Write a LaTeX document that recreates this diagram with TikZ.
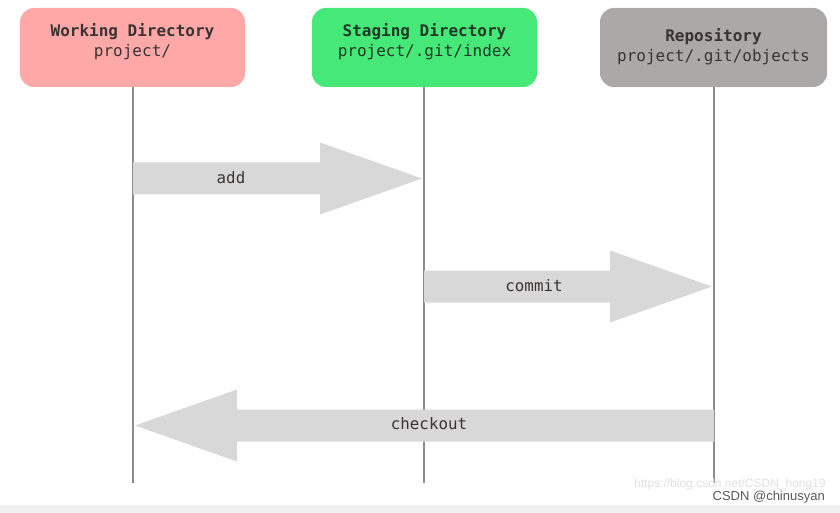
\documentclass[tikz,border=0pt]{standalone}
\usepackage{fontspec}
\setmonofont{DejaVu Sans Mono}
\setsansfont{Liberation Sans}
\usetikzlibrary{calc}
\definecolor{wdpink}{HTML}{FFA8A8}
\definecolor{sdgreen}{HTML}{46E878}
\definecolor{repogray}{HTML}{ADA8A8}
\definecolor{arrowfill}{HTML}{D8D8D8}
\definecolor{lifegray}{HTML}{8C8C8C}
\definecolor{txtdark}{HTML}{3A3333}
\definecolor{txtgreen}{HTML}{1E3A26}
\tikzset{
  box/.style={rounded corners=14pt, minimum width=225pt, minimum height=79pt, inner sep=0pt},
  boxtext/.style={align=center, font=\fontsize{16}{20}\selectfont\ttfamily, inner sep=0pt},
  lifeline/.style={draw=lifegray, line width=1.3pt},
  bigarrow/.style={fill=arrowfill, draw=none},
  arrlabel/.style={font=\fontsize{15.8}{18}\selectfont\ttfamily, text=txtdark, inner sep=0pt},
}
\begin{document}
\begin{tikzpicture}[x=1pt,y=-1pt]
\useasboundingbox (0,0) rectangle (840,513);
\fill[white] (0,0) rectangle (840,513);
\fill[black!6] (0,505) rectangle (840,513);
% boxes
\node[box, fill=wdpink] (wd) at (132.5,47.5) {};
\node[box, fill=sdgreen] (sd) at (424.5,47.5) {};
\node[box, fill=repogray, minimum width=227pt] (repo) at (713.5,47.5) {};
\node[boxtext, text=txtdark] (wdt) at (132.5,42) {\textbf{Working Directory}\\project/};
\node[boxtext, text=txtgreen] (sdt) at (424.5,42) {\textbf{Staging Directory}\\project/.git/index};
\node[boxtext, text=txtdark] (repot) at (713.5,47) {\textbf{Repository}\\project/.git/objects};
% lifeline ends
\coordinate (wdend) at (133,483);
\coordinate (sdend) at (424,483);
\coordinate (repoend) at (714,483);
\draw[lifeline] (133,87) -- (wdend);
\draw[lifeline] (424,87) -- (sdend);
\draw[lifeline] (714,87) -- (repoend);
% add arrow
\coordinate (addS) at (133,178.5);
\coordinate (addT) at (422,178.5);
\fill[bigarrow] ($(addS)+(0,-16)$) -- ($(addT)+(-102,-16)$) -- ($(addT)+(-102,-36)$) -- (addT)
  -- ($(addT)+(-102,36)$) -- ($(addT)+(-102,16)$) -- ($(addS)+(0,16)$) -- cycle;
\node[arrlabel] (addl) at (231,178) {add};
% commit arrow
\coordinate (comS) at (424,286.5);
\coordinate (comT) at (712,286.5);
\fill[bigarrow] ($(comS)+(0,-16)$) -- ($(comT)+(-102,-16)$) -- ($(comT)+(-102,-36)$) -- (comT)
  -- ($(comT)+(-102,36)$) -- ($(comT)+(-102,16)$) -- ($(comS)+(0,16)$) -- cycle;
\node[arrlabel] (coml) at (534,286) {commit};
% checkout arrow
\coordinate (coS) at (714,425.5);
\coordinate (coT) at (135,425.5);
\fill[bigarrow] ($(coS)+(0,-16)$) -- ($(coT)+(102,-16)$) -- ($(coT)+(102,-36)$) -- (coT)
  -- ($(coT)+(102,36)$) -- ($(coT)+(102,16)$) -- ($(coS)+(0,16)$) -- cycle;
\node[arrlabel] (col) at (429,424) {checkout};
% watermark
\node[font=\fontsize{12}{14}\selectfont\sffamily, text=black!12, anchor=west, inner sep=0pt] (url) at (634,484) {https://blog.csdn.net/CSDN\_hong19};
\node[font=\fontsize{13}{15}\selectfont\sffamily, text=black!65, anchor=east, inner sep=0pt] (wm) at (825,497.5) {CSDN @chinusyan};
\end{tikzpicture}
\end{document}
